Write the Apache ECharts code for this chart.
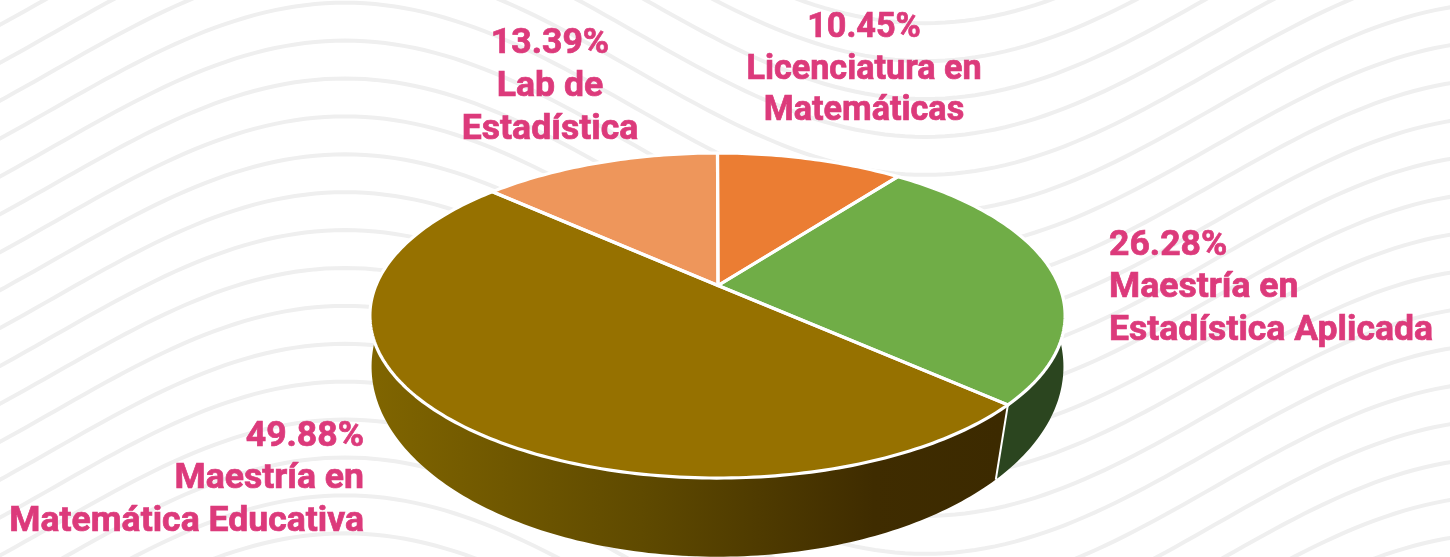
<!DOCTYPE html>
<html lang="es">
<head>
<meta charset="utf-8">
<title>Distribución por programa</title>
<style>
  html, body { margin: 0; padding: 0; background: #fff; }
  #main { width: 1450px; height: 557px; }
</style>
<script src="https://cdn.jsdelivr.net/npm/echarts@6/dist/echarts.min.js"></script>
</head>
<body>
<div id="main"></div>
<script>
// chart data, clockwise from twelve o'clock
const categories = ['Licenciatura en\nMatemáticas', 'Maestría en\nEstadística Aplicada', 'Maestría en\nMatemática Educativa', 'Lab de\nEstadística'];
const shares = [10.45, 26.28, 49.88, 13.39];

// styles
const topColors = ['#EB7D33', '#70AD47', '#967100', '#EE965B'];
const labelColor = '#DC3A7B';
const labelBoxes = [
  { x: 864, y: 8, align: 'center', lineHeight: 41.5, size: 34.2 },
  { x: 1109, y: 224.5, align: 'left', lineHeight: 42.5, size: 35.6 },
  { x: 364, y: 415.5, align: 'right', lineHeight: 42.5, size: 35.6 },
  { x: 550, y: 22.5, align: 'center', lineHeight: 43, size: 35.6 }
];

// the picture is a tilted 3D pie: each rim is a circle seen in perspective
const apex = [718, 285.5];
const topRim = { cx: 717.5, cy: 284, a: 341, b: 156.4, k: 0.194 };
const bottomRim = { cx: 717.5, cy: 342, a: 343, b: 186.8, k: 0.13 };

function project(rim, angle) {
  const u = Math.sin(angle);
  const v = Math.cos(angle);
  const w = 1 - rim.k * v;
  return [rim.cx + rim.a * u / w, rim.cy + rim.b * v / w];
}

// angle measured from the top of the pie, going clockwise
function rimPoint(rim, deg) {
  return project(rim, Math.PI - deg * Math.PI / 180);
}

function arcPoints(rim, from, to) {
  const pts = [];
  const steps = Math.max(2, Math.ceil(to - from));
  for (let i = 0; i <= steps; i++) {
    pts.push(rimPoint(rim, from + (to - from) * i / steps));
  }
  return pts;
}

function sideColor(index) {
  if (index === 2) {
    return new echarts.graphic.LinearGradient(370, 0, 1000, 0, [
      { offset: 0, color: '#806500' },
      { offset: 0.43, color: '#5F4A00' },
      { offset: 0.8, color: '#3F2C00' },
      { offset: 1, color: '#3C2A00' }
    ], true);
  }
  return index === 1 ? '#2B451F' : '#6B3A17';
}

// slices as [startDeg, endDeg]
const total = shares.reduce((a, b) => a + b, 0);
let running = 0;
const sliceData = shares.map(function(value) {
  const start = running / total * 360;
  running += value;
  return [start, running / total * 360];
});

function renderSide(params, api) {
  const start = api.value(0);
  const end = api.value(1);
  const upper = arcPoints(topRim, start, end);
  const lower = arcPoints(bottomRim, start, end).reverse();
  const children = [{
    type: 'polygon',
    shape: { points: upper.concat(lower) },
    style: { fill: sideColor(params.dataIndex) }
  }];
  // white seam where two slices meet on the front wall
  if (Math.cos(end * Math.PI / 180) < 0) {
    const a = rimPoint(topRim, end);
    const b = rimPoint(bottomRim, end);
    children.push({
      type: 'line',
      z2: 5,
      shape: { x1: a[0], y1: a[1], x2: b[0], y2: b[1] },
      style: { stroke: '#fff', lineWidth: 2 }
    });
  }
  return { type: 'group', children: children };
}

function renderTop(params, api) {
  const i = params.dataIndex;
  const pts = arcPoints(topRim, api.value(0), api.value(1));
  pts.unshift(apex);
  const box = labelBoxes[i];
  return {
    type: 'group',
    children: [{
      type: 'polygon',
      shape: { points: pts },
      style: { fill: topColors[i] }
    }, {
      // outline on its own level so the next slice does not paint over it
      type: 'polygon',
      z2: 10,
      shape: { points: pts },
      style: { fill: 'none', stroke: '#fff', lineWidth: 3.2, lineJoin: 'round' }
    }, {
      type: 'text',
      z2: 20,
      x: box.x,
      y: box.y,
      style: {
        text: shares[i].toFixed(2) + '%\n' + categories[i],
        font: '700 ' + box.size + 'px Roboto',
        fill: labelColor,
        stroke: labelColor,
        lineWidth: 0.7,
        align: box.align,
        verticalAlign: 'top',
        lineHeight: box.lineHeight
      }
    }]
  };
}

// background: pale wavy lines, decoration only
function waveElements() {
  const out = [];
  for (let n = -12; n < 16; n++) {
    const pts = [];
    for (let x = -5; x <= 1455; x += 10) {
      pts.push([x, 2.7 + 37.9 * n + 105 * (1 - Math.cos(2 * Math.PI * (x - 345) / 1160))]);
    }
    out.push({
      type: 'polyline',
      silent: true,
      shape: { points: pts, smooth: 0 },
      style: { stroke: '#EFEFEF', lineWidth: 4, fill: null }
    });
  }
  return out;
}

const chart = echarts.init(document.getElementById('main'), null, { renderer: 'canvas' });
chart.setOption({
  animation: false,
  backgroundColor: '#fff',
  tooltip: { show: false },
  graphic: waveElements(),
  series: [
    { type: 'custom', name: 'pared', coordinateSystem: 'none', z: 2, silent: true, renderItem: renderSide, data: sliceData },
    { type: 'custom', name: 'cara', coordinateSystem: 'none', z: 3, silent: true, renderItem: renderTop, data: sliceData }
  ]
});
</script>
</body>
</html>
